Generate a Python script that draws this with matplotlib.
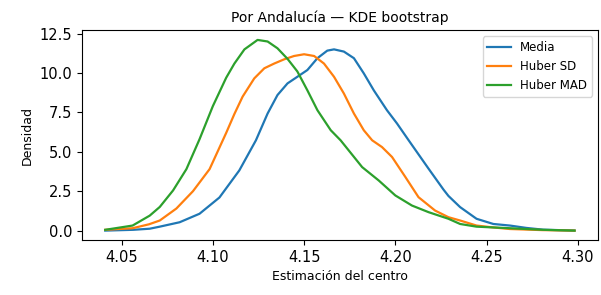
import matplotlib
matplotlib.use("Agg")
import matplotlib.pyplot as plt

# ======================
# DATA
# ======================
media_x = [4.041, 4.0563, 4.0654, 4.0709, 4.0818, 4.0927, 4.1036, 4.1145, 4.1236,
           4.1300, 4.1354, 4.1409, 4.1463, 4.1518, 4.1573, 4.1627, 4.1664, 4.1718,
           4.1773, 4.1827, 4.1882, 4.1954, 4.2009, 4.2073, 4.2182, 4.2264, 4.2291,
           4.2355, 4.2445, 4.2537, 4.2628, 4.2718, 4.2809, 4.2982]
media_y = [0.0, 0.05, 0.12, 0.25, 0.53, 1.07, 2.1, 3.82, 5.73,
           7.43, 8.6, 9.34, 9.76, 10.19, 10.94, 11.42, 11.5, 11.36,
           10.94, 9.98, 8.9, 7.64, 6.8, 5.73, 3.93, 2.6, 2.2,
           1.49, 0.75, 0.42, 0.32, 0.17, 0.06, 0.0]

sd_x = [4.041, 4.056, 4.065, 4.0709, 4.0800, 4.0891, 4.0982, 4.1073, 4.1118,
        4.1163, 4.1227, 4.1282, 4.1336, 4.1391, 4.1445, 4.1500, 4.1555, 4.1609,
        4.1664, 4.1718, 4.1773, 4.1827, 4.1873, 4.1927, 4.1982, 4.2055, 4.2127,
        4.2218, 4.2291, 4.2355, 4.2445, 4.2537, 4.2628, 4.2809, 4.2982]
sd_y = [0.05, 0.15, 0.4, 0.64, 1.4, 2.5, 3.9, 6.2, 7.4,
        8.5, 9.66, 10.3, 10.6, 10.87, 11.08, 11.19, 11.08, 10.6,
        9.76, 8.7, 7.43, 6.37, 5.73, 5.3, 4.67, 3.4, 2.12,
        1.27, 0.85, 0.64, 0.32, 0.2, 0.1, 0.03, 0.0]

mad_x = [4.041, 4.056, 4.0654, 4.0709, 4.0782, 4.0855, 4.0927, 4.1000, 4.1073,
         4.1118, 4.1173, 4.1245, 4.1300, 4.1354, 4.1409, 4.1463, 4.1518, 4.1573,
         4.1646, 4.1700, 4.1818, 4.1909, 4.2000, 4.2091, 4.2182, 4.2291, 4.2355,
         4.2445, 4.2537, 4.2628, 4.2809, 4.2982]
mad_y = [0.05, 0.32, 0.95, 1.5, 2.55, 3.9, 5.8, 7.9, 9.7,
         10.6, 11.5, 12.1, 12.0, 11.57, 10.9, 10.1, 8.9, 7.64,
         6.37, 5.73, 4.03, 3.18, 2.23, 1.59, 1.17, 0.75, 0.42,
         0.25, 0.2, 0.15, 0.05, 0.0]

labels = ["Media", "Huber SD", "Huber MAD"]


def main():
    fig = plt.figure(figsize=(6.01, 2.95), dpi=100)
    ax = fig.add_axes([0.136, 0.186, 0.859, 0.711])

    ax.plot(media_x, media_y, color="#1f77b4", lw=1.6, label=labels[0])
    ax.plot(sd_x, sd_y, color="#ff7f0e", lw=1.6, label=labels[1])
    ax.plot(mad_x, mad_y, color="#2ca02c", lw=1.6, label=labels[2])

    ax.set_xticks([4.05, 4.10, 4.15, 4.20, 4.25, 4.30])
    ax.set_yticks([0.0, 2.5, 5.0, 7.5, 10.0, 12.5])
    ax.tick_params(labelsize=10.5)

    ax.set_title("Por Andalucía — KDE bootstrap", fontsize=10)
    ax.set_xlabel("Estimación del centro", fontsize=9)
    ax.set_ylabel("Densidad", fontsize=9)
    ax.legend(loc="upper right", fontsize=8.5)

    fig.savefig("out.png", dpi=100)
    plt.close(fig)


if __name__ == "__main__":
    main()
